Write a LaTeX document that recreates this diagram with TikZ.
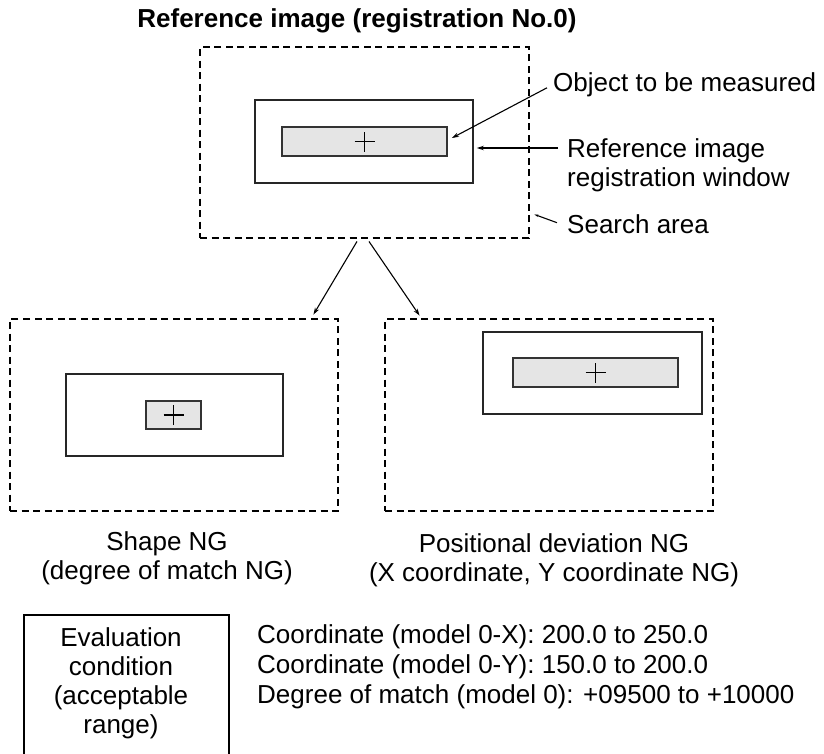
\documentclass[tikz,border=0pt]{standalone}
\usepackage{fontspec}
\setmainfont{Liberation Sans}
\usepackage{tikz}
\usetikzlibrary{arrows.meta, positioning}

\tikzset{
  searcharea/.style={draw, dash pattern=on 7pt off 4.5pt, line width=2.9pt, inner sep=0pt},
  regwindow/.style={draw=black!85, line width=1.8pt, fill=white, inner sep=0pt},
  measobj/.style={draw=black!80, line width=1.8pt, fill=black!10, inner sep=0pt},
  callout/.style={line width=1.1pt, -{Stealth[length=7pt,width=4.5pt]}},
  smalltip/.style={line width=1.1pt, -{Stealth[length=4pt,width=2.5pt]}},
  lbl/.style={inner sep=0pt, font=\fontsize{26pt}{29pt}\selectfont},
}

% cross mark at the centre of a measured object
\newcommand{\objcross}[1]{%
  \draw[line width=1.6pt] ([xshift=-10pt]#1.center) -- ([xshift=10pt]#1.center)
        ([yshift=-10pt]#1.center) -- ([yshift=10pt]#1.center);}

\begin{document}
\begin{tikzpicture}[x=1pt, y=-1pt]

			\useasboundingbox (0,0) rectangle (824,753);

			% Title
			\node[lbl, font=\bfseries\fontsize{26pt}{29pt}\selectfont, anchor=base] (title) at (357,27) {Reference image (registration No.0)};

			% Reference image: search area, window and object
			\node[searcharea, minimum width=329pt, minimum height=191pt] (topsearch) at (364.5,142.5) {};
			\node[regwindow, minimum width=218pt, minimum height=83pt] (topwin) at (364,141.5) {};
			\node[measobj, minimum width=165pt, minimum height=29pt] (topobj) at (364.5,141.5) {};
			\objcross{topobj}

			% Callout labels on the right
			\node[lbl, anchor=base west] (objlbl) at (553,91) {Object to be measured};
			\node[lbl, anchor=north west, align=left] (winlbl) at (567,138) {Reference image\\registration window};
			\node[lbl, anchor=base west] (srchlbl) at (567,233) {Search area};

			\coordinate (winfrom) at ([xshift=-9pt,yshift=-10pt]winlbl.north west);
			\draw[callout] ([xshift=-6pt,yshift=-3.5pt]objlbl.west) -- ([xshift=4pt,yshift=3.5pt]topobj.east);
			\draw[callout, shorten >=3pt] (winfrom) -- (winfrom -| topwin.east);
			\draw[smalltip] ([xshift=-10pt,yshift=1pt]srchlbl.west) -- ([xshift=4pt,yshift=25pt]topsearch.south east);

			% Shape NG case
			\node[searcharea, minimum width=328pt, minimum height=192pt] (leftsearch) at (174,415) {};
			\node[regwindow, minimum width=217pt, minimum height=82pt] (leftwin) at (174.5,415) {};
			\node[measobj, minimum width=55pt, minimum height=28pt] (leftobj) at (173.5,415) {};
			\objcross{leftobj}

			% Positional deviation NG case
			\node[searcharea, minimum width=328pt, minimum height=192pt] (rightsearch) at (549,415) {};
			\node[regwindow, minimum width=219pt, minimum height=82pt] (rightwin) at (592.5,373) {};
			\node[measobj, minimum width=165pt, minimum height=29pt] (rightobj) at (595.5,372.5) {};
			\objcross{rightobj}

			% Arrows down to the two cases
			\draw[callout] ([xshift=-7.5pt,yshift=-2pt]topsearch.south) -- ([xshift=-26pt,yshift=3pt]leftsearch.north east);
			\draw[callout] ([xshift=4.5pt,yshift=-2pt]topsearch.south) -- ([xshift=36pt,yshift=2pt]rightsearch.north west);

			% Case labels
			\node[lbl, anchor=north, align=center] (shapelbl) at (167,531) {Shape NG\\(degree of match NG)};
			\node[lbl, anchor=north, align=center] (poslbl) at (554,533) {Positional deviation NG\\(X coordinate, Y coordinate NG)};

			% Evaluation condition
			\draw[line width=1.8pt] (24,770) |- (229,615) -- (229,770);
			\node[lbl, anchor=north, align=center] (evaltext) at (121,627) {Evaluation\\condition\\(acceptable\\range)};
			\node[lbl, font=\fontsize{26pt}{30pt}\selectfont, anchor=north west, align=left] (condtext) at (257,624)
				{Coordinate (model 0-X): 200.0 to 250.0\\Coordinate (model 0-Y): 150.0 to 200.0\\Degree of match (model 0): +09500 to +10000};

		\end{tikzpicture}
\end{document}
